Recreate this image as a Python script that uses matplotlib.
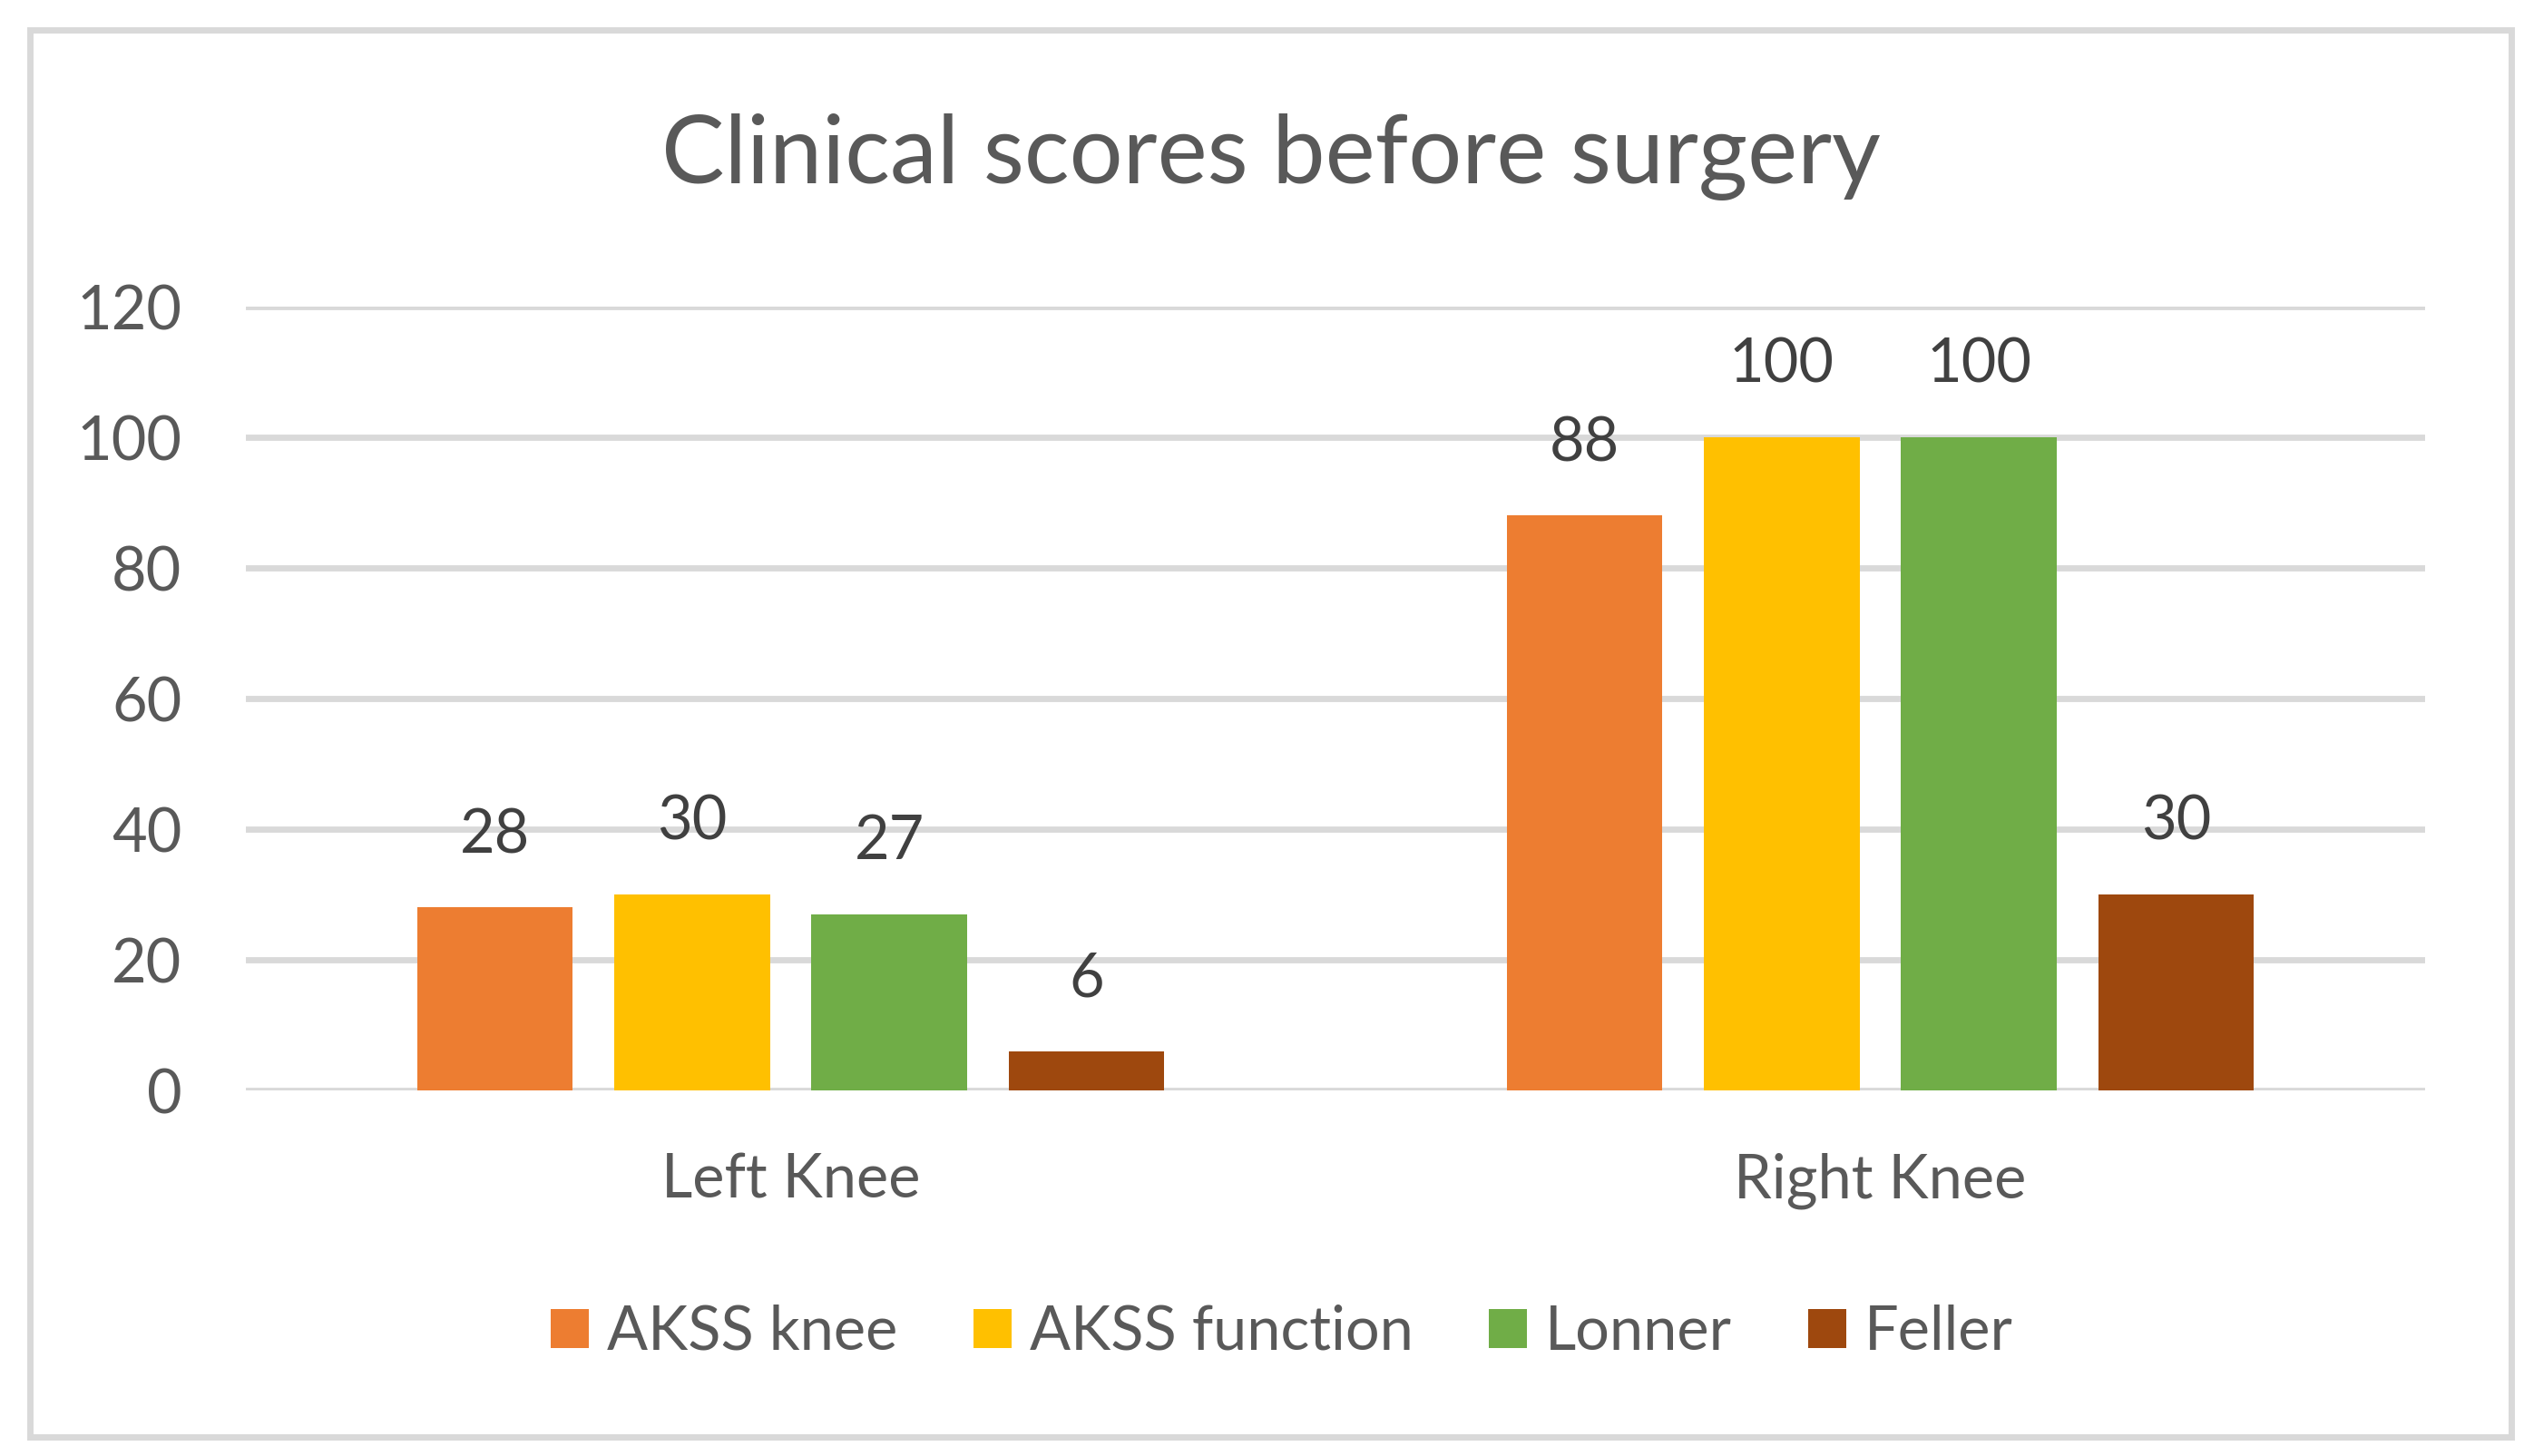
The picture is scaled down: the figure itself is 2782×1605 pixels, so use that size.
import matplotlib
matplotlib.use("Agg")
import matplotlib.pyplot as plt
from matplotlib.patches import Patch, Rectangle
import numpy as np

categories = ["Left Knee", "Right Knee"]
series_names = ["AKSS knee", "AKSS function", "Lonner", "Feller"]
akss_knee = [28, 88]
akss_function = [30, 100]
lonner = [27, 100]
feller = [6, 30]
series_values = [akss_knee, akss_function, lonner, feller]
colors = ["#ED7D31", "#FFC000", "#70AD47", "#9E480E"]
yticks = [0, 20, 40, 60, 80, 100, 120]
title = "Clinical scores before surgery"

plt.rcParams['font.family'] = ['Lato', 'DejaVu Sans']
DPI = 100
fig = plt.figure(figsize=(27.82, 16.05), dpi=DPI)
fig.patch.set_facecolor("white")

W, H = 2782, 1605
def fx(px): return px / W
def fy(py): return 1 - py / H

# chart border
fig.patches.append(Rectangle((fx(33), fy(1584)), fx(2768) - fx(33), fy(33) - fy(1584),
                             transform=fig.transFigure, fill=False,
                             edgecolor="#D9D9D9", linewidth=5, zorder=0))

ax = fig.add_axes([fx(271), fy(1202), fx(2673) - fx(271), fy(338) - fy(1202)])
ax.set_xlim(-0.5, 1.5)
ax.set_ylim(0, 120)

x = np.arange(len(categories))
spacing = 0.181
width = 0.143
for i, (name, vals, c) in enumerate(zip(series_names, series_values, colors)):
    pos = x + (i - 1.5) * spacing
    bars = ax.bar(pos, vals, width=width, color=c, label=name, zorder=3)
    for b, v in zip(bars, vals):
        ax.annotate(str(v), (b.get_x() + b.get_width() / 2, v),
                    xytext=(0, 57), textcoords="offset points",
                    ha="center", va="center", fontsize=48, color="#404040")

ax.set_yticks(yticks)
ax.set_yticklabels([str(t) for t in yticks])
ax.set_xticks(x)
ax.set_xticklabels(categories)
ax.yaxis.grid(True, color="#D9D9D9", linewidth=4.9, zorder=0)
ax.set_axisbelow(True)
for s in ax.spines.values():
    s.set_visible(False)
ax.tick_params(axis="y", length=0, pad=51, labelsize=48, labelcolor="#595959")
ax.tick_params(axis="x", length=0, pad=49, labelsize=48, labelcolor="#595959")

fig.text(fx(1401), fy(202), title, ha="center", va="baseline", fontsize=75, color="#595959")

handles = [Patch(facecolor=c, edgecolor="none") for c in colors]
leg = fig.legend(handles, series_names, loc="center", bbox_to_anchor=(fx(1413), fy(1469)),
                 ncol=4, frameon=False, fontsize=48, handlelength=0.63, handleheight=0.63,
                 handletextpad=0.3, columnspacing=1.25, labelcolor="#595959",
                 borderpad=0, borderaxespad=0)

fig.savefig("out.png", dpi=DPI)
